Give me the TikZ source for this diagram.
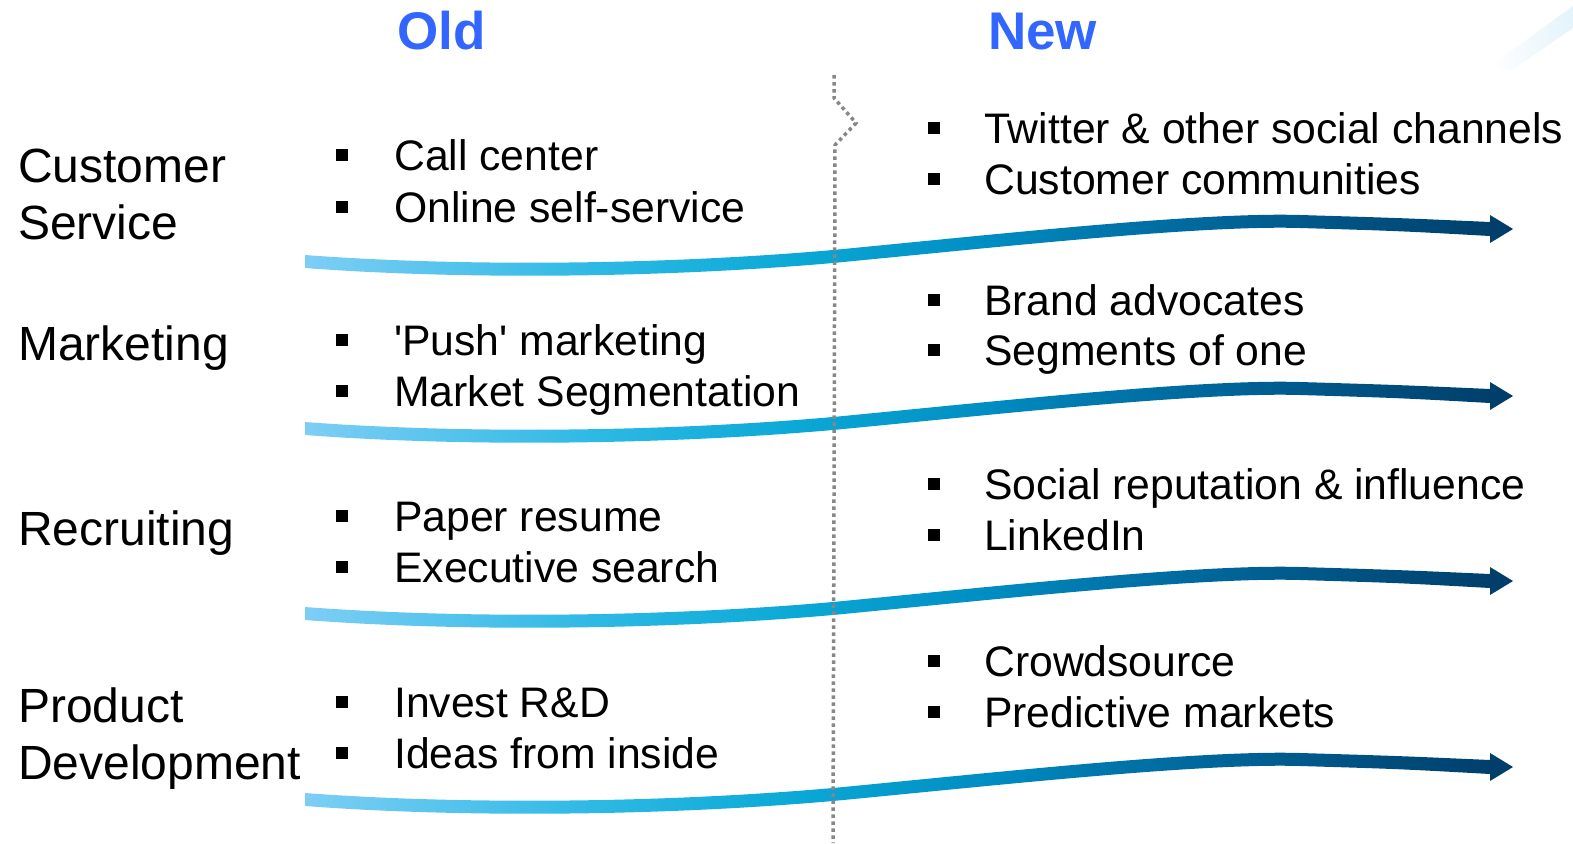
\documentclass[tikz,border=0pt]{standalone}
\usepackage{fontspec}
\setmainfont{Liberation Sans}
\usepackage{tikz}

\definecolor{titleblue}{RGB}{51,102,255}
\definecolor{divgray}{RGB}{135,135,135}
\definecolor{arA}{RGB}{125,206,245}
\definecolor{arB}{RGB}{45,185,228}
\definecolor{arC}{RGB}{10,168,214}
\definecolor{arD}{RGB}{0,140,194}
\definecolor{arE}{RGB}{0,118,172}
\definecolor{arF}{RGB}{0,90,140}
\definecolor{arG}{RGB}{0,60,104}
\definecolor{streak}{RGB}{228,243,251}

\pgfdeclarehorizontalshading{bandshade}{100bp}{color(0bp)=(arA); color(25bp)=(arA); color(37bp)=(arB); color(45.5bp)=(arC); color(53.5bp)=(arD); color(58bp)=(arE); color(66bp)=(arF); color(75bp)=(arG); color(100bp)=(arG)}

% one wavy arrow band, shifted down by #1
\newcommand{\waveband}[1]{%
\shade[shading=bandshade,yshift=-#1] (305,255) .. controls (450,266) and (650,266) .. (833,250) .. controls (1000,234) and (1200,212) .. (1300,215) .. controls (1400,218) .. (1490,222) -- (1490,215) -- (1513,229) -- (1490,243) -- (1490,236) .. controls (1400,231) .. (1300,228) .. controls (1200,225) and (1000,247) .. (833,263) .. controls (650,279) and (450,279) .. (305,268) -- cycle ;}

\begin{document}
\begin{tikzpicture}[x=1pt,y=-1pt,
  title/.style={anchor=base west,inner sep=0pt,text=titleblue,font=\fontsize{53}{60}\selectfont\bfseries},
  rowlabel/.style={anchor=base west,inner sep=0pt,font=\fontsize{48}{57}\selectfont},
  item/.style={anchor=base west,inner sep=0pt,font=\fontsize{42.7}{50}\selectfont},
  bul/.style={fill=black,inner sep=0pt,minimum size=11.5pt,rectangle}]
\useasboundingbox (0,0) rectangle (1573,843);

%Shape: faint streak top right
\shade[left color=white,right color=streak] (1490,66) -- (1573,6) -- (1573,28) -- (1512,70) -- cycle ;

%Shape: wavy arrows
\waveband{0pt}
\waveband{167pt}
\waveband{352pt}
\waveband{538pt}

%Straight Lines: divider
\draw [color=divgray,line width=3.5pt,dash pattern=on 3.5pt off 3.5pt] (834,75) -- (834,98) -- (856,123) -- (835,145) -- (833,843) ;

% Text Node
\node[title] (old) at (397,50) {Old};
% Text Node
\node[title] (new) at (988,50) {New};

% Text Node
\node[rowlabel] (cs1) at (18,182) {Customer};
\node[rowlabel] (cs2) at (18,239) {Service};
% Text Node
\node[rowlabel] (mk) at (18,360) {Marketing};
% Text Node
\node[rowlabel] (rc) at (18,545) {Recruiting};
% Text Node
\node[rowlabel] (pd1) at (18,722) {Product};
\node[rowlabel] (pd2) at (18,779) {Development};

% Old items
\node[bul] (b1) at (342,155) {};
\node[item] (o1) at (394,170) {Call center};
\node[bul] (b2) at (342,207) {};
\node[item] (o2) at (394,222) {Online self-service};
\node[bul] (b3) at (342,340) {};
\node[item] (o3) at (394,355) {\textquotesingle Push\textquotesingle{} marketing};
\node[bul] (b4) at (342,391) {};
\node[item] (o4) at (394,406) {Market Segmentation};
\node[bul] (b5) at (342,516) {};
\node[item] (o5) at (394,531) {Paper resume};
\node[bul] (b6) at (342,567) {};
\node[item] (o6) at (394,582) {Executive search};
\node[bul] (b7) at (342,702) {};
\node[item] (o7) at (394,717) {Invest R\&D};
\node[bul] (b8) at (342,753) {};
\node[item] (o8) at (394,768) {Ideas from inside};

% New items
\node[bul] (c1) at (934,128) {};
\node[item] (n1) at (984,143) {Twitter \& other social channels};
\node[bul] (c2) at (934,179) {};
\node[item] (n2) at (984,194) {Customer communities};
\node[bul] (c3) at (934,300) {};
\node[item] (n3) at (984,315) {Brand advocates};
\node[bul] (c4) at (934,350) {};
\node[item] (n4) at (984,365) {Segments of one};
\node[bul] (c5) at (934,484) {};
\node[item] (n5) at (984,499) {Social reputation \& influence};
\node[bul] (c6) at (934,535) {};
\node[item] (n6) at (984,550) {LinkedIn};
\node[bul] (c7) at (934,661) {};
\node[item] (n7) at (984,676) {Crowdsource};
\node[bul] (c8) at (934,712) {};
\node[item] (n8) at (984,727) {Predictive markets};

\end{tikzpicture}
\end{document}
